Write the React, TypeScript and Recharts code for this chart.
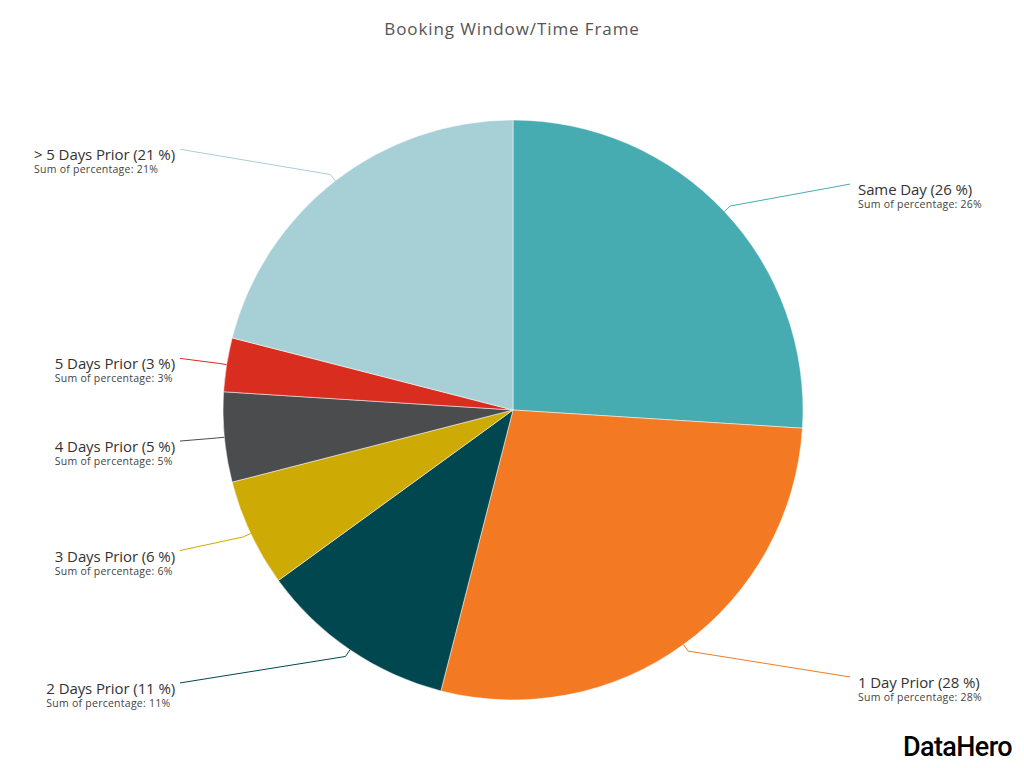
import React from 'react';
import { PieChart, Pie, Cell } from 'recharts';

const categories = [
  'Same Day',
  '1 Day Prior',
  '2 Days Prior',
  '3 Days Prior',
  '4 Days Prior',
  '5 Days Prior',
  '> 5 Days Prior',
];
const percentages = [26, 28, 11, 6, 5, 3, 21];
const sliceColors = ['#47acb1', '#f37a22', '#01474f', '#cdaa04', '#4b4c4e', '#d92d20', '#a6d0d5'];

const data = categories.map((name, i) => ({ name, value: percentages[i], color: sliceColors[i] }));

const RADIAN = Math.PI / 180;
const FONT = '"Open Sans", Lato, sans-serif';

let ctx: CanvasRenderingContext2D | null = null;
function textWidth(text: string, font: string, spacing: number): number {
  if (!ctx) ctx = document.createElement('canvas').getContext('2d');
  if (!ctx) return text.length * 7;
  ctx.font = font;
  return ctx.measureText(text).width + spacing * text.length;
}

function SliceLabel(props: any) {
  const { cx, cy, midAngle, outerRadius, payload } = props;
  const cos = Math.cos(-midAngle * RADIAN);
  const sin = Math.sin(-midAngle * RADIAN);
  const sx = cx + outerRadius * cos;
  const sy = cy + outerRadius * sin;
  const mx = cx + (outerRadius + 8) * cos;
  const my = cy + (outerRadius + 8) * sin;
  const right = cos >= 0;
  const ex = right ? 850 : 180;
  const ey = cy + (outerRadius + 40) * sin;
  const title = `${payload.name} (${payload.value} %)`;
  const sub = `Sum of percentage: ${payload.value}%`;
  const tx = right ? 858 : 175 - textWidth(title, `15px ${FONT}`, -0.1);
  return (
    <g>
      <polyline
        points={`${sx},${sy} ${mx},${my} ${ex},${ey}`}
        fill="none"
        stroke={payload.color}
        strokeWidth={1}
      />
      <text x={tx} y={ey + 11} fontSize={15} fill="#333" fontFamily={FONT} letterSpacing={-0.1}>
        {title}
      </text>
      <text x={tx} y={ey + 24} fontSize={10.5} fill="#444" fontFamily={FONT} letterSpacing={0.25}>
        {sub}
      </text>
    </g>
  );
}

export default function App() {
  return (
    <div style={{ position: 'fixed', left: 0, top: 0, width: 1024, height: 768, background: '#fff' }}>
      <div
        style={{
          position: 'absolute',
          top: 17,
          width: 1024,
          textAlign: 'center',
          fontFamily: FONT,
          fontSize: 17,
          letterSpacing: 0.9,
          color: '#555',
        }}
      >
        Booking Window/Time Frame
      </div>
      <PieChart width={1024} height={768} margin={{ top: 0, right: 0, bottom: 0, left: 0 }}>
        <Pie
          data={data}
          dataKey="value"
          nameKey="name"
          cx={513}
          cy={410}
          outerRadius={290}
          startAngle={90}
          endAngle={-270}
          stroke="#fff"
          strokeWidth={0.5}
          label={SliceLabel}
          labelLine={false}
          isAnimationActive={false}
        >
          {data.map((d) => (
            <Cell key={d.name} fill={d.color} />
          ))}
        </Pie>
      </PieChart>
      <div
        style={{
          position: 'absolute',
          right: 12,
          top: 731,
          lineHeight: 'normal',
          fontFamily: 'Roboto, sans-serif',
          fontSize: 27,
          fontWeight: 500,
          letterSpacing: -0.6,
          color: '#000',
        }}
      >
        DataHero
      </div>
    </div>
  );
}
